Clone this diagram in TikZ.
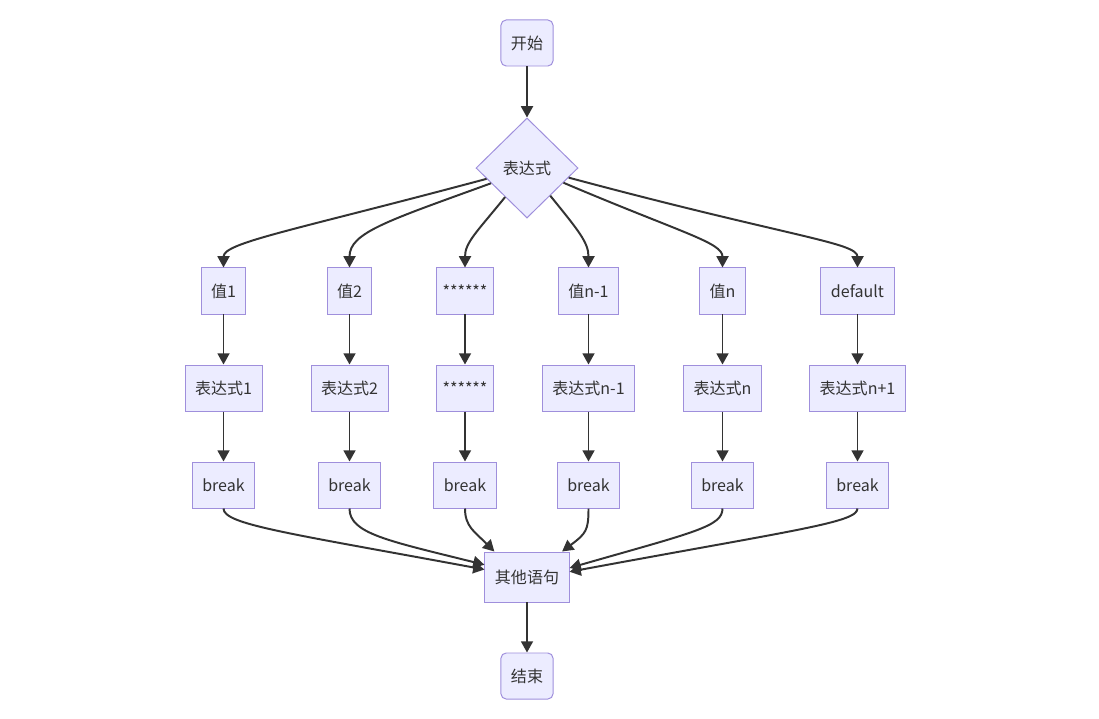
\documentclass[tikz,border=0pt]{standalone}
\usepackage{fontspec}
\setmainfont{Noto Sans CJK SC}
\usetikzlibrary{positioning, shapes.geometric, arrows.meta}
\usepackage{xcolor}
\definecolor{BoxFill} {HTML}{ECECFF}
\definecolor{BoxLine} {HTML}{9F8FDC}
\definecolor{FlowGray}{HTML}{333333}
\definecolor{TxtGray} {HTML}{333333}
\tikzset{
  every node/.style={font=\fontsize{11.4}{13}\selectfont, text=TxtGray},
  % plain step box
  box/.style ={draw=BoxLine, fill=BoxFill, line width=0.7pt,
               minimum height=1.15cm, inner xsep=0.25cm, inner ysep=0pt},
  term/.style={box, rounded corners=0.13cm},
  cond/.style={diamond, draw=BoxLine, fill=BoxFill, line width=0.7pt,
               minimum width=2.55cm, minimum height=2.5cm, inner sep=0pt},
  flow/.style={draw=FlowGray, line width=1.4pt,
               -{Triangle[length=8pt,width=8.5pt]}},
}

\begin{document}
\begin{tikzpicture}[x=0.025cm, y=0.025cm]

\useasboundingbox[fill=white] (0,0) rectangle (1099,718);

\node[term] (start) at (527,675) {开始};
\node[cond, below=1.275cm of start] (cond) {表达式};

% case values
\node[box] (v1) at (223.5,427) {值1};
\node[box] (v2) at (349.5,427) {值2};
\node[box, inner xsep=0.14cm] (v3) at (465,427) {******};
\node[box] (v4) at (588.5,427) {值n-1};
\node[box] (v5) at (722.5,427) {值n};
\node[box] (v6) at (857.5,427) {default};

% case bodies
\node[box, below=1.25cm of v1] (e1) {表达式1};
\node[box, below=1.25cm of v2] (e2) {表达式2};
\node[box, inner xsep=0.14cm, below=1.25cm of v3] (e3) {******};
\node[box, below=1.25cm of v4] (e4) {表达式n-1};
\node[box, below=1.25cm of v5] (e5) {表达式n};
\node[box, below=1.25cm of v6] (e6) {表达式n+1};

\node[box, below=1.25cm of e1] (b1) {break};
\node[box, below=1.25cm of e2] (b2) {break};
\node[box, below=1.25cm of e3] (b3) {break};
\node[box, below=1.25cm of e4] (b4) {break};
\node[box, below=1.25cm of e5] (b5) {break};
\node[box, below=1.25cm of e6] (b6) {break};

\node[box, minimum height=1.25cm] (rest) at (527,141) {其他语句};
\node[term, below=1.25cm of rest] (fin) {结束};

\draw[flow] (start) -- (cond);

% fan out from the condition
\draw[flow] (cond.195) .. controls +(195:200) and +(90:25) .. (v1.north);
\draw[flow] (cond.203) .. controls +(200:110) and +(90:35) .. (v2.north);
\draw[flow] (cond.233) .. controls +(231:45)  and +(90:25) .. (v3.north);
\draw[flow] (cond.310) .. controls +(309:45)  and +(90:25) .. (v4.north);
\draw[flow] (cond.338) .. controls +(337:130) and +(90:25) .. (v5.north);
\draw[flow] (cond.347) .. controls +(345:230) and +(90:25) .. (v6.north);

\draw[flow] (v1) -- (e1);
\draw[flow] (v2) -- (e2);
\draw[flow] (v3) -- (e3);
\draw[flow] (v4) -- (e4);
\draw[flow] (v5) -- (e5);
\draw[flow] (v6) -- (e6);

\draw[flow] (e1) -- (b1);
\draw[flow] (e2) -- (b2);
\draw[flow] (e3) -- (b3);
\draw[flow] (e4) -- (b4);
\draw[flow] (e5) -- (b5);
\draw[flow] (e6) -- (b6);

% merge into the following statements
\draw[flow] (b1.south) .. controls +(-90:16) and +(169.5:200) .. (rest.170);
\draw[flow] (b2.south) .. controls +(-90:25) and +(166:100)   .. (rest.164);
\draw[flow] (b3.south) .. controls +(-90:18) and +(135:28)    .. (rest.142);
\draw[flow] (b4.south) .. controls +(-90:22) and +(37:30)     .. (rest.36);
\draw[flow] (b5.south) .. controls +(-90:18) and +(16:130)    .. (rest.12);
\draw[flow] (b6.south) .. controls +(-90:14) and +(10.5:230)  .. (rest.7);

\draw[flow] (rest) -- (fin);

\end{tikzpicture}
\end{document}
